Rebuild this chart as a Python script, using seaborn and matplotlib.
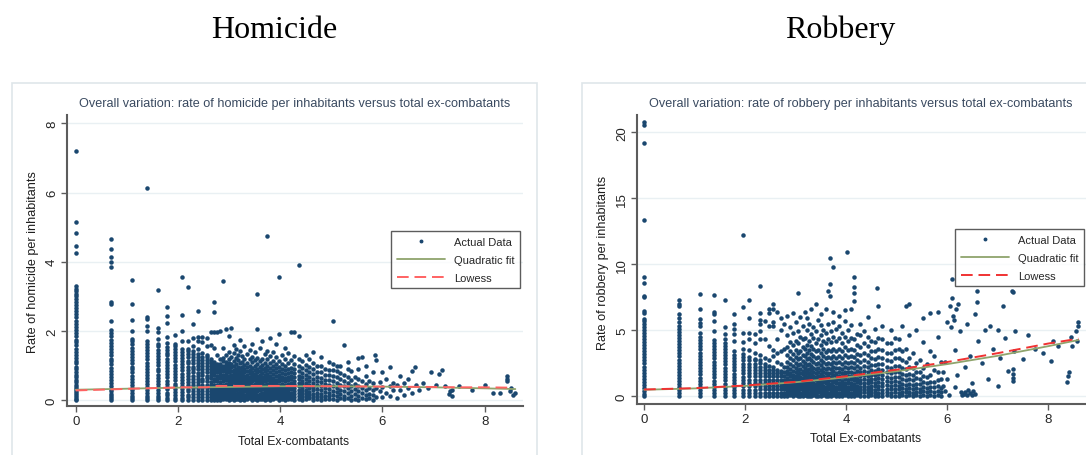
import matplotlib
matplotlib.use("Agg")
import matplotlib.pyplot as plt
import numpy as np
import pandas as pd
import seaborn as sns
from matplotlib.lines import Line2D
from matplotlib.patches import Rectangle

# ---------------------------------------------------------------- data
# x = total ex-combatants (log scale units), y = crime rate per inhabitants

# Homicide: municipalities sitting on the discrete low-count columns
hom_col_x = [0.0, 0.69, 1.10, 1.39, 1.61, 1.79, 1.95, 2.08, 2.20, 2.30, 2.40,
             2.48, 2.56, 2.64, 2.71, 2.77, 2.83]
hom_col_y = [
    [0.0, 0.04, 0.09, 0.15, 0.2, 0.26, 0.33, 0.38, 0.45, 0.52, 0.59, 0.67, 0.74, 0.82, 0.9, 0.97,
     1.06, 1.14, 1.22, 1.31, 1.4, 1.48, 1.58, 1.67, 1.75, 1.85, 1.94, 2.03, 2.11, 2.21, 2.3, 2.4,
     2.48, 2.58, 2.66, 2.75, 2.84, 2.92, 3.0, 3.07, 3.15, 3.22, 3.3, 4.25, 4.45, 4.82, 5.15, 7.2],
    [0.0, 0.05, 0.11, 0.18, 0.25, 0.33, 0.41, 0.49, 0.58, 0.66, 0.76, 0.85, 0.93, 1.03, 1.12, 1.2,
     1.3, 1.39, 1.47, 1.57, 1.66, 1.74, 1.84, 1.93, 2.02, 2.3, 2.77, 2.85, 3.84, 4.0, 4.13, 4.36, 4.65],
    [0.0, 0.06, 0.13, 0.2, 0.28, 0.36, 0.45, 0.53, 0.62, 0.7, 0.8, 0.89, 0.97, 1.07, 1.16, 1.24,
     1.34, 1.43, 1.51, 1.61, 1.7, 1.78, 2.0, 2.32, 2.78, 3.47],
    [0.0, 0.06, 0.13, 0.21, 0.29, 0.37, 0.46, 0.54, 0.64, 0.73, 0.81, 0.91, 1.0, 1.08, 1.18, 1.27,
     1.35, 1.45, 1.54, 1.62, 1.72, 2.0, 2.15, 2.33, 2.4, 6.12],
    [0.0, 0.06, 0.13, 0.21, 0.3, 0.38, 0.47, 0.55, 0.65, 0.74, 0.83, 0.91, 1.01, 1.1, 1.18, 1.28,
     1.37, 1.45, 1.55, 1.62, 1.78, 1.98, 2.08, 3.18],
    [0.0, 0.07, 0.14, 0.22, 0.31, 0.39, 0.48, 0.56, 0.66, 0.75, 0.83, 0.93, 1.02, 1.1, 1.2, 1.29,
     1.37, 1.46, 1.53, 1.65, 1.82, 2.23, 2.43, 2.68],
    [0.0, 0.07, 0.15, 0.23, 0.31, 0.4, 0.48, 0.58, 0.67, 0.75, 0.85, 0.94, 1.02, 1.12, 1.21, 1.29,
     1.39, 1.48, 1.56, 1.62, 1.88],
    [0.0, 0.07, 0.15, 0.24, 0.32, 0.41, 0.49, 0.59, 0.68, 0.76, 0.86, 0.95, 1.04, 1.12, 1.22, 1.31,
     1.4, 1.47, 1.71, 1.99, 2.45, 3.56],
    [0.0, 0.08, 0.16, 0.25, 0.33, 0.43, 0.52, 0.6, 0.7, 0.79, 0.87, 0.97, 1.06, 1.14, 1.24, 1.33,
     1.41, 1.47, 1.71, 3.27],
    [0.0, 0.08, 0.17, 0.26, 0.35, 0.43, 0.53, 0.62, 0.7, 0.8, 0.89, 0.97, 1.07, 1.16, 1.24, 1.34,
     1.42, 1.57, 1.8, 2.2],
    [0.0, 0.08, 0.17, 0.25, 0.35, 0.44, 0.52, 0.62, 0.71, 0.79, 0.89, 0.98, 1.06, 1.16, 1.25, 1.34,
     1.47, 1.7, 1.83, 2.58],
    [0.0, 0.09, 0.18, 0.27, 0.35, 0.45, 0.54, 0.62, 0.72, 0.81, 0.89, 0.99, 1.08, 1.16, 1.26, 1.36,
     1.67, 1.82],
    [0.0, 0.09, 0.17, 0.27, 0.36, 0.44, 0.54, 0.63, 0.71, 0.81, 0.9, 0.98, 1.08, 1.17, 1.25, 1.3,
     1.55, 1.8],
    [0.0, 0.09, 0.18, 0.26, 0.36, 0.45, 0.53, 0.63, 0.72, 0.8, 0.9, 0.99, 1.07, 1.14, 1.2, 1.6, 1.98],
    [0.0, 0.09, 0.18, 0.27, 0.35, 0.45, 0.54, 0.62, 0.72, 0.81, 0.89, 0.98, 1.05, 1.1, 1.5, 1.98,
     2.54, 2.83],
    [0.0, 0.09, 0.17, 0.27, 0.36, 0.44, 0.54, 0.63, 0.71, 0.81, 0.89, 0.97, 1.05, 1.3, 1.98],
    [0.0, 0.09, 0.18, 0.26, 0.36, 0.45, 0.53, 0.63, 0.72, 0.8, 0.88, 0.96, 1.03, 1.2, 2.0],
]

# Homicide: the merged cloud of higher counts
hom_slice_x = [2.89, 2.94, 3.0, 3.04, 3.09, 3.14, 3.18, 3.22, 3.26, 3.3, 3.35, 3.4, 3.45, 3.5,
               3.55, 3.6, 3.65, 3.7, 3.75, 3.8, 3.86, 3.92, 3.98, 4.04, 4.1, 4.16, 4.22, 4.28,
               4.36, 4.43, 4.5, 4.57, 4.64, 4.72, 4.8, 4.88, 4.96, 5.04, 5.11, 5.18, 5.25, 5.32,
               5.39, 5.46, 5.53, 5.6, 5.67, 5.74, 5.81]
hom_slice_y = [
    [0.02, 0.1, 0.19, 0.27, 0.36, 0.45, 0.55, 0.64, 0.73, 0.83, 0.92, 1.0, 1.12, 1.21, 1.5, 3.44],
    [0.04, 0.12, 0.21, 0.3, 0.39, 0.48, 0.57, 0.66, 0.75, 0.84, 0.93, 1.02, 1.1, 1.3, 2.05],
    [0.01, 0.08, 0.17, 0.26, 0.35, 0.44, 0.53, 0.62, 0.71, 0.8, 0.89, 0.98, 1.07, 1.18, 1.4, 1.85],
    [0.03, 0.11, 0.2, 0.29, 0.38, 0.47, 0.56, 0.65, 0.74, 0.83, 0.95, 1.05, 1.25, 2.08],
    [0.0, 0.07, 0.15, 0.24, 0.33, 0.42, 0.51, 0.6, 0.7, 0.79, 0.88, 1.0, 1.12, 1.35, 1.6],
    [0.02, 0.1, 0.19, 0.28, 0.37, 0.46, 0.55, 0.64, 0.73, 0.82, 0.91, 1.04, 1.22, 1.48],
    [0.04, 0.13, 0.22, 0.31, 0.4, 0.49, 0.58, 0.67, 0.76, 0.86, 0.97, 1.15, 1.3],
    [0.01, 0.09, 0.18, 0.27, 0.36, 0.45, 0.54, 0.63, 0.72, 0.81, 0.92, 1.06, 1.42, 1.75],
    [0.03, 0.12, 0.21, 0.3, 0.39, 0.48, 0.57, 0.66, 0.75, 0.85, 0.96, 1.1, 1.28],
    [0.0, 0.08, 0.16, 0.25, 0.34, 0.43, 0.52, 0.61, 0.7, 0.8, 0.9, 1.02, 1.2, 1.55],
    [0.02, 0.11, 0.2, 0.29, 0.38, 0.47, 0.56, 0.65, 0.74, 0.84, 0.95, 1.08, 1.33],
    [0.05, 0.14, 0.23, 0.32, 0.41, 0.5, 0.59, 0.68, 0.78, 0.88, 1.0, 1.18, 1.45],
    [0.01, 0.09, 0.18, 0.27, 0.36, 0.45, 0.54, 0.63, 0.72, 0.82, 0.94, 1.1, 1.25, 1.62],
    [0.03, 0.12, 0.21, 0.3, 0.39, 0.48, 0.57, 0.66, 0.76, 0.87, 0.99, 1.15, 1.38],
    [0.0, 0.07, 0.16, 0.25, 0.34, 0.43, 0.52, 0.61, 0.7, 0.8, 0.91, 1.05, 1.22, 2.05, 3.06],
    [0.02, 0.1, 0.19, 0.28, 0.37, 0.46, 0.55, 0.64, 0.74, 0.85, 0.97, 1.13, 1.5],
    [0.04, 0.13, 0.22, 0.31, 0.4, 0.49, 0.58, 0.68, 0.78, 0.89, 1.02, 1.2, 1.7],
    [0.01, 0.09, 0.18, 0.27, 0.36, 0.45, 0.54, 0.63, 0.73, 0.83, 0.94, 1.08, 1.32],
    [0.03, 0.12, 0.21, 0.3, 0.39, 0.48, 0.57, 0.66, 0.76, 0.87, 1.0, 1.18, 1.43, 4.74],
    [0.0, 0.08, 0.17, 0.26, 0.35, 0.44, 0.53, 0.62, 0.71, 0.81, 0.92, 1.06, 1.27, 1.8],
    [0.02, 0.11, 0.2, 0.29, 0.38, 0.47, 0.56, 0.65, 0.75, 0.86, 0.98, 1.14, 1.38],
    [0.05, 0.14, 0.23, 0.32, 0.41, 0.5, 0.59, 0.69, 0.8, 0.92, 1.05, 1.25, 1.62],
    [0.01, 0.09, 0.18, 0.27, 0.36, 0.45, 0.54, 0.64, 0.74, 0.85, 0.97, 1.12, 1.9, 3.55],
    [0.03, 0.12, 0.21, 0.3, 0.39, 0.48, 0.57, 0.67, 0.78, 0.9, 1.03, 1.3],
    [0.0, 0.08, 0.17, 0.26, 0.35, 0.44, 0.54, 0.64, 0.75, 0.87, 1.0, 1.2, 1.52],
    [0.02, 0.11, 0.2, 0.29, 0.38, 0.47, 0.57, 0.67, 0.78, 0.9, 1.08, 1.36],
    [0.04, 0.13, 0.22, 0.31, 0.4, 0.5, 0.6, 0.7, 0.81, 0.94, 1.15, 1.97],
    [0.01, 0.09, 0.18, 0.27, 0.36, 0.46, 0.56, 0.66, 0.77, 0.9, 1.05, 1.28, 1.97],
    [0.03, 0.12, 0.21, 0.3, 0.4, 0.5, 0.6, 0.71, 0.83, 0.98, 1.2, 1.85, 3.9],
    [0.0, 0.08, 0.17, 0.26, 0.36, 0.46, 0.56, 0.67, 0.79, 0.93, 1.12],
    [0.02, 0.11, 0.2, 0.3, 0.4, 0.5, 0.61, 0.73, 0.86, 1.02, 1.3],
    [0.05, 0.14, 0.24, 0.34, 0.44, 0.55, 0.67, 0.8, 0.95, 1.18],
    [0.01, 0.1, 0.19, 0.29, 0.39, 0.5, 0.62, 0.75, 0.9, 1.07, 1.4],
    [0.03, 0.12, 0.22, 0.32, 0.43, 0.55, 0.68, 0.82, 0.98],
    [0.0, 0.09, 0.19, 0.29, 0.4, 0.52, 0.65, 0.8, 1.0, 1.25],
    [0.04, 0.13, 0.23, 0.34, 0.46, 0.59, 0.73, 0.9],
    [0.02, 0.11, 0.21, 0.32, 0.44, 0.57, 0.72, 0.88, 1.1],
    [0.03, 0.14, 0.27, 0.4, 0.55, 0.7, 0.86, 1.05, 2.28],
    [0.0, 0.11, 0.23, 0.36, 0.5, 0.66, 0.84, 1.0],
    [0.05, 0.17, 0.3, 0.44, 0.6, 0.78, 1.0],
    [0.02, 0.13, 0.26, 0.4, 0.55, 0.73, 1.59],
    [0.07, 0.2, 0.34, 0.49, 0.67, 0.9, 1.1],
    [0.01, 0.12, 0.25, 0.4, 0.58, 0.85],
    [0.04, 0.17, 0.31, 0.47, 0.66],
    [0.0, 0.12, 0.26, 0.42, 0.6, 0.9, 1.22],
    [0.06, 0.2, 0.36, 0.54, 1.26],
    [0.02, 0.15, 0.3, 0.48, 0.7, 1.0],
    [0.05, 0.19, 0.35, 0.55],
    [0.01, 0.14, 0.3, 0.5, 0.8],
]

# Homicide: sparse municipalities with the largest numbers of ex-combatants
hom_sparse = [
    (5.86, 1.3), (5.88, 0.1), (5.88, 0.35), (5.88, 1.15), (5.95, 0.25),
    (5.95, 0.52), (6.0, 0.08), (6.0, 0.38), (6.0, 0.8), (6.07, 0.2), (6.07, 0.6), (6.14, 0.12),
    (6.14, 0.4), (6.14, 0.95), (6.2, 0.28), (6.2, 0.5), (6.28, 0.05), (6.28, 0.45), (6.35, 0.3),
    (6.35, 0.7), (6.42, 0.15), (6.42, 0.5), (6.5, 0.35), (6.5, 0.62), (6.58, 0.2), (6.58, 0.85),
    (6.64, 0.95), (6.66, 0.45), (6.72, 0.3), (6.8, 0.5), (6.9, 0.35), (6.95, 0.8), (7.05, 0.45),
    (7.1, 0.75), (7.17, 0.88), (7.22, 0.4), (7.3, 0.17), (7.33, 0.25), (7.36, 0.12), (7.36, 0.3),
    (7.5, 0.4), (7.76, 0.28), (8.0, 0.45), (8.17, 0.22), (8.3, 0.2), (8.44, 0.55), (8.44, 0.62),
    (8.44, 0.7), (8.5, 0.25), (8.55, 0.15), (8.6, 0.22), (8.52, 0.35),
]

# Homicide fitted curves
hom_quad_x = [0, 1, 2, 3, 4, 5, 6, 7, 8, 8.6]
hom_quad_y = [0.30, 0.33, 0.36, 0.38, 0.40, 0.40, 0.39, 0.37, 0.34, 0.32]
hom_lowess_x = [0, 0.69, 1.1, 1.61, 2.08, 2.56, 2.77, 3.0, 4.0, 5.0, 6.0, 7.0, 7.5, 8.0, 8.5]
hom_lowess_y = [0.28, 0.31, 0.33, 0.35, 0.37, 0.37, 0.41, 0.41, 0.41, 0.40, 0.39, 0.38, 0.37,
                0.37, 0.36]

# Robbery: municipalities on the discrete low-count columns
rob_col_x = [0.0, 0.69, 1.10, 1.39, 1.61, 1.79, 1.95, 2.08, 2.20, 2.30, 2.40, 2.48, 2.56, 2.64,
             2.71, 2.77]
rob_col_y = [
    [0.0, 0.18, 0.4, 0.63, 0.85, 1.08, 1.3, 1.55, 1.78, 2.0, 2.24, 2.47, 2.7, 2.95, 3.18, 3.4,
     3.63, 3.88, 4.1, 4.33, 4.57, 4.8, 5.02, 5.25, 5.48, 5.68, 5.85, 6.28, 6.48, 7.5, 7.62, 8.6,
     9.0, 13.35, 19.2, 20.55, 20.8],
    [0.0, 0.21, 0.44, 0.67, 0.9, 1.13, 1.36, 1.6, 1.83, 2.06, 2.3, 2.53, 2.76, 3.0, 3.23, 3.46,
     3.7, 3.93, 4.16, 4.4, 4.63, 4.86, 5.08, 5.3, 5.6, 5.9, 6.2, 6.8, 7.0, 7.28],
    [0.0, 0.22, 0.46, 0.7, 0.93, 1.17, 1.4, 1.64, 1.88, 2.12, 2.35, 2.58, 2.82, 3.05, 3.3, 3.53,
     3.77, 4.0, 4.22, 4.45, 4.8, 5.3, 5.55, 5.85, 6.6, 7.72],
    [0.0, 0.22, 0.46, 0.7, 0.94, 1.18, 1.42, 1.66, 1.9, 2.14, 2.38, 2.62, 2.86, 3.1, 3.34, 3.57,
     3.8, 4.02, 4.22, 4.9, 5.7, 6.2, 6.4, 7.65],
    [0.0, 0.23, 0.47, 0.71, 0.95, 1.2, 1.44, 1.68, 1.92, 2.16, 2.4, 2.64, 2.88, 3.12, 3.36, 3.6,
     3.82, 4.0, 4.35, 4.7, 5.2, 7.25],
    [0.0, 0.23, 0.47, 0.72, 0.96, 1.2, 1.45, 1.7, 1.94, 2.18, 2.42, 2.66, 2.9, 3.14, 3.38, 4.2,
     4.7, 5.1, 5.5, 6.2],
    [0.0, 0.24, 0.48, 0.73, 0.98, 1.22, 1.47, 1.72, 1.96, 2.2, 2.45, 2.7, 2.95, 3.18, 3.6, 4.1,
     4.8, 6.75],
    [0.0, 0.24, 0.49, 0.74, 0.99, 1.24, 1.49, 1.74, 1.98, 2.22, 2.46, 2.7, 2.95, 3.5, 4.3, 4.8,
     5.9, 7.25],
    [0.0, 0.24, 0.49, 0.74, 0.99, 1.24, 1.49, 1.74, 1.98, 2.22, 2.46, 2.7, 2.82, 3.3, 4.0, 4.7],
    [0.0, 0.25, 0.5, 0.75, 1.0, 1.25, 1.5, 1.75, 2.0, 2.24, 2.48, 2.7, 3.1, 4.3, 4.9, 5.45, 5.8,
     6.3, 8.35],
    [0.0, 0.25, 0.5, 0.75, 1.0, 1.25, 1.5, 1.75, 2.0, 2.22, 2.42, 2.9, 4.3, 5.7],
    [0.0, 0.25, 0.5, 0.75, 1.0, 1.25, 1.5, 1.75, 2.0, 2.3, 2.7, 3.8, 5.3, 6.3, 6.6],
    [0.0, 0.25, 0.5, 0.75, 1.0, 1.25, 1.5, 1.75, 1.98, 2.2, 3.0, 3.5, 5.3, 5.6, 6.6, 7.0],
    [0.0, 0.25, 0.5, 0.75, 1.0, 1.25, 1.5, 1.75, 2.0, 2.6, 3.3, 4.3, 6.4],
    [0.0, 0.25, 0.5, 0.75, 1.0, 1.25, 1.5, 1.72, 1.9, 2.4, 3.4, 5.0, 5.9],
    [0.0, 0.25, 0.5, 0.75, 1.0, 1.25, 1.5, 1.8, 2.2, 3.6, 5.5],
]

# Robbery: the merged cloud of higher counts
rob_slice_x = [2.83, 2.89, 2.94, 3.0, 3.04, 3.09, 3.14, 3.18, 3.22, 3.26, 3.3, 3.35, 3.4, 3.45,
               3.5, 3.55, 3.6, 3.65, 3.68, 3.7, 3.75, 3.8, 3.86, 3.92, 3.98, 4.02, 4.04, 4.1,
               4.16, 4.22, 4.28, 4.36, 4.43, 4.5, 4.57, 4.61, 4.64, 4.72, 4.8, 4.88, 4.96,
               5.04, 5.11, 5.18, 5.25, 5.32, 5.39, 5.46, 5.53, 5.6, 5.67, 5.74, 5.81, 5.88]
rob_slice_y = [
    [0.0, 0.22, 0.45, 0.68, 0.92, 1.15, 1.4, 1.65, 1.9, 2.2, 2.6, 3.1, 3.7, 4.6, 6.1],
    [0.05, 0.28, 0.52, 0.76, 1.0, 1.25, 1.5, 1.78, 2.05, 2.4, 2.85, 3.4, 4.1, 5.2],
    [0.0, 0.2, 0.43, 0.66, 0.9, 1.14, 1.38, 1.62, 1.9, 2.25, 2.7, 3.2, 3.9, 4.8, 6.3],
    [0.08, 0.3, 0.54, 0.78, 1.02, 1.27, 1.52, 1.8, 2.1, 2.5, 2.95, 3.5, 4.2, 5.6],
    [0.0, 0.23, 0.46, 0.7, 0.94, 1.18, 1.43, 1.7, 2.0, 2.35, 2.8, 3.3, 4.0, 4.9, 7.8],
    [0.04, 0.27, 0.5, 0.74, 0.98, 1.22, 1.48, 1.75, 2.05, 2.45, 2.9, 3.45, 4.5, 6.0],
    [0.0, 0.21, 0.44, 0.67, 0.9, 1.14, 1.38, 1.64, 1.92, 2.25, 2.65, 3.1, 3.7, 4.3, 5.3],
    [0.06, 0.29, 0.52, 0.76, 1.0, 1.25, 1.52, 1.8, 2.12, 2.5, 3.0, 3.6, 4.4, 6.4],
    [0.0, 0.24, 0.47, 0.71, 0.95, 1.2, 1.45, 1.72, 2.0, 2.35, 2.8, 3.3, 3.9, 5.0, 5.9],
    [0.03, 0.26, 0.5, 0.74, 0.98, 1.23, 1.5, 1.78, 2.08, 2.45, 2.9, 3.5, 4.2, 5.5],
    [0.0, 0.22, 0.45, 0.69, 0.93, 1.17, 1.42, 1.68, 1.96, 2.3, 2.7, 3.2, 3.8, 4.7, 6.6],
    [0.07, 0.3, 0.54, 0.78, 1.02, 1.28, 1.55, 1.84, 2.15, 2.55, 3.0, 3.6, 4.4, 5.2],
    [0.0, 0.23, 0.47, 0.71, 0.95, 1.2, 1.46, 1.73, 2.02, 2.4, 2.85, 3.4, 4.0, 4.9, 7.0],
    [0.04, 0.28, 0.52, 0.76, 1.0, 1.25, 1.52, 1.8, 2.1, 2.5, 2.95, 3.5, 4.3, 5.8],
    [0.0, 0.21, 0.44, 0.68, 0.92, 1.16, 1.42, 1.7, 2.0, 2.35, 2.75, 3.25, 3.9, 4.6, 5.4, 6.2],
    [0.06, 0.3, 0.54, 0.78, 1.03, 1.28, 1.55, 1.84, 2.15, 2.55, 3.0, 3.55, 4.2, 5.0],
    [0.0, 0.24, 0.48, 0.72, 0.96, 1.21, 1.47, 1.75, 2.05, 2.4, 2.85, 3.35, 4.0, 4.8, 6.6],
    [0.03, 0.26, 0.5, 0.74, 0.98, 1.24, 1.5, 1.78, 2.1, 2.5, 2.95, 3.5, 4.3, 5.5, 8.0],
    [7.6, 8.5, 10.5],
    [0.0, 0.22, 0.46, 0.7, 0.94, 1.19, 1.45, 1.73, 2.03, 2.4, 2.85, 3.4, 4.1, 4.9],
    [0.07, 0.3, 0.54, 0.78, 1.03, 1.29, 1.57, 1.87, 2.2, 2.6, 3.05, 3.6, 4.5, 5.6, 6.4, 9.8],
    [0.0, 0.23, 0.47, 0.71, 0.96, 1.22, 1.49, 1.78, 2.1, 2.48, 2.9, 3.45, 4.2, 5.1],
    [0.04, 0.27, 0.51, 0.75, 1.0, 1.26, 1.53, 1.82, 2.15, 2.55, 3.0, 3.6, 4.4, 5.3, 6.1],
    [0.0, 0.22, 0.45, 0.69, 0.93, 1.18, 1.44, 1.72, 2.03, 2.4, 2.85, 3.4, 4.0, 4.8],
    [0.05, 0.29, 0.53, 0.77, 1.02, 1.28, 1.56, 1.86, 2.2, 2.6, 3.1, 3.7, 4.5, 5.7, 6.5],
    [10.9],
    [0.0, 0.24, 0.48, 0.72, 0.97, 1.23, 1.5, 1.8, 2.12, 2.5, 2.95, 3.5, 4.2, 5.0],
    [0.03, 0.26, 0.5, 0.75, 1.0, 1.26, 1.54, 1.84, 2.18, 2.58, 3.05, 3.6, 4.4, 5.4, 6.6],
    [0.0, 0.22, 0.46, 0.7, 0.95, 1.21, 1.48, 1.78, 2.1, 2.5, 2.95, 3.5, 4.3, 7.2, 7.8, 8.3, 9.0],
    [0.06, 0.3, 0.54, 0.79, 1.04, 1.3, 1.58, 1.9, 2.25, 2.7, 3.2, 3.9, 4.7],
    [0.0, 0.23, 0.47, 0.72, 0.97, 1.23, 1.51, 1.82, 2.16, 2.58, 3.1, 3.7, 4.6, 5.5],
    [0.04, 0.28, 0.52, 0.77, 1.02, 1.29, 1.58, 1.9, 2.28, 2.72, 3.3, 4.0, 4.9],
    [0.0, 0.22, 0.46, 0.71, 0.96, 1.22, 1.5, 1.82, 2.18, 2.62, 3.15, 3.8, 4.5, 6.0],
    [0.05, 0.29, 0.54, 0.79, 1.05, 1.32, 1.62, 1.96, 2.36, 2.85, 3.4, 4.2],
    [0.0, 0.24, 0.49, 0.74, 1.0, 1.28, 1.58, 1.92, 2.32, 2.8, 3.4, 4.1, 5.1],
    [8.2],
    [0.03, 0.27, 0.52, 0.78, 1.05, 1.34, 1.66, 2.02, 2.45, 2.95, 3.6, 4.4, 6.8],
    [0.0, 0.23, 0.48, 0.74, 1.01, 1.3, 1.62, 1.98, 2.4, 2.9, 3.5, 4.3, 5.3],
    [0.06, 0.3, 0.56, 0.83, 1.12, 1.44, 1.8, 2.22, 2.7, 3.3, 4.0],
    [0.0, 0.25, 0.5, 0.77, 1.06, 1.38, 1.74, 2.15, 2.65, 3.25, 4.0, 5.0],
    [0.04, 0.28, 0.54, 0.82, 1.12, 1.46, 1.84, 2.3, 2.85, 3.5, 4.4],
    [0.0, 0.25, 0.52, 0.8, 1.1, 1.45, 1.85, 2.3, 2.9, 3.6, 4.3],
    [0.08, 0.34, 0.62, 0.92, 1.26, 1.65, 2.1, 2.7, 3.4, 5.3],
    [0.02, 0.28, 0.56, 0.86, 1.2, 1.6, 2.05, 2.6, 3.6, 6.8],
    [0.05, 0.32, 0.6, 0.92, 1.28, 1.7, 2.2, 2.9, 4.6, 6.97],
    [0.0, 0.26, 0.55, 0.86, 1.2, 1.62, 2.15, 3.3],
    [0.06, 0.33, 0.62, 0.95, 1.35, 1.85, 2.5, 5.0],
    [0.02, 0.28, 0.57, 0.9, 1.3, 1.8, 2.7],
    [0.08, 0.36, 0.68, 1.05, 1.5, 2.1, 4.1, 5.9],
    [0.0, 0.3, 0.62, 1.0, 1.45, 2.4],
    [0.05, 0.36, 0.7, 1.1, 1.6, 3.4, 6.3],
    [0.02, 0.32, 0.66, 1.05, 2.0, 3.0],
    [0.06, 0.38, 0.75, 1.2, 1.8, 4.5, 6.34],
    [0.0, 0.3, 0.65, 1.3, 2.6],
]

# Robbery: sparse municipalities with the largest numbers of ex-combatants
rob_sparse = [
    (1.95, 12.2), (5.92, 0.8), (5.92, 1.8), (5.96, 0.4), (5.96, 2.6), (6.0, 1.3), (6.0, 5.6),
    (6.03, 0.1), (6.05, 6.8), (6.09, 8.86), (6.1, 7.4), (6.08, 5.2), (6.12, 6.1), (6.14, 5.8),
    (6.15, 0.7), (6.15, 3.5), (6.18, 6.6), (6.2, 1.6), (6.22, 7.0), (6.25, 4.9), (6.28, 0.3),
    (6.3, 0.05), (6.33, 0.15), (6.36, 0.3), (6.4, 0.1), (6.42, 0.45), (6.45, 0.2), (6.5, 0.05),
    (6.52, 0.35), (6.55, 0.15), (6.35, 2.2), (6.4, 5.5), (6.45, 3.0), (6.5, 1.0), (6.55, 6.2),
    (6.59, 7.93), (6.6, 7.1), (6.62, 4.2), (6.7, 2.5), (6.75, 5.0), (6.8, 1.3), (6.85, 5.3),
    (6.9, 3.6), (7.0, 5.0), (7.0, 0.8), (7.05, 2.9), (7.1, 6.8), (7.15, 4.4), (7.2, 1.9),
    (7.28, 7.98), (7.3, 7.88), (7.3, 1.15), (7.3, 1.4), (7.3, 1.7), (7.3, 2.05), (7.32, 3.4),
    (7.35, 4.9), (7.5, 2.8), (7.6, 4.6), (7.75, 3.6), (7.9, 3.3), (8.05, 2.65), (8.1, 4.2),
    (8.2, 3.8), (8.38, 1.1), (8.4, 1.5), (8.42, 1.8), (8.45, 4.5), (8.48, 3.8), (8.55, 4.9),
    (8.6, 5.3), (8.6, 5.6), (8.58, 4.2),
]

# Robbery fitted curves
rob_quad_x = [0, 1, 2, 3, 4, 5, 6, 7, 8, 8.6]
rob_quad_y = [0.48, 0.58, 0.77, 1.05, 1.42, 1.88, 2.42, 3.05, 3.78, 4.25]
rob_lowess_x = [0, 1, 2, 3, 4, 5, 6, 7, 8, 8.6]
rob_lowess_y = [0.50, 0.60, 0.80, 1.08, 1.50, 2.00, 2.58, 3.25, 3.98, 4.35]

panel_titles = ["Homicide", "Robbery"]
inner_titles = [
    "Overall variation: rate of homicide per inhabitants versus total ex-combatants",
    "Overall variation: rate of robbery per inhabitants versus total ex-combatants",
]
y_labels = ["Rate of homicide per inhabitants", "Rate of robbery per inhabitants"]
x_label = "Total Ex-combatants"
legend_labels = ["Actual Data", "Quadratic fit", "Lowess"]
hom_yticks = [0, 2, 4, 6, 8]
rob_yticks = [0, 5, 10, 15, 20]
x_ticks = [0, 2, 4, 6, 8]

# ---------------------------------------------------------------- style
NAVY = "#1a476f"
QUAD = "#8fa46c"
W, H = 1086, 456

sns.set_theme(style="white")
plt.rcParams["font.family"] = ["Liberation Sans", "DejaVu Sans"]


def points_frame(col_x, col_y, slice_x, slice_y, sparse):
    xs, ys = [], []
    for x, vals in list(zip(col_x, col_y)) + list(zip(slice_x, slice_y)):
        xs.extend([x] * len(vals))
        ys.extend(vals)
    for x, y in sparse:
        xs.append(x)
        ys.append(y)
    return pd.DataFrame({"x": xs, "y": ys})


def box(l, t, r, b):
    return [l / W, 1 - b / H, (r - l) / W, (b - t) / H]


fig = plt.figure(figsize=(W / 100, H / 100), dpi=100)
fig.patch.set_facecolor("white")

# light frames around each panel
for (l, t, r, b) in [(12, 84, 537, 470), (582, 84, 1100, 470)]:
    fig.patches.append(Rectangle((l / W, 1 - b / H), (r - l) / W, (b - t) / H,
                                 transform=fig.transFigure, fill=False,
                                 edgecolor="#dfe6ea", linewidth=1.2))

panels = [
    dict(rect=box(67, 116, 523, 407), xlim=(-0.17, 8.75), ylim=(-0.17, 8.24),
         yticks=hom_yticks,
         pts=points_frame(hom_col_x, hom_col_y, hom_slice_x, hom_slice_y, hom_sparse),
         quad=(hom_quad_x, hom_quad_y), low=(hom_lowess_x, hom_lowess_y),
         low_color="#ff6262", title_x=274, inner_x=295, ylab_x=33, ylab_y=262, xlab_x=294,
         xlab_y=442, leg=(391, 232)),
    dict(rect=box(637, 116, 1086, 405), xlim=(-0.14, 8.75), ylim=(-0.6, 21.3),
         yticks=rob_yticks,
         pts=points_frame(rob_col_x, rob_col_y, rob_slice_x, rob_slice_y, rob_sparse),
         quad=(rob_quad_x, rob_quad_y), low=(rob_lowess_x, rob_lowess_y),
         low_color="#f03232", title_x=840, inner_x=861, ylab_x=603, ylab_y=263, xlab_x=866,
         xlab_y=439, leg=(955, 230)),
]

for i, p in enumerate(panels):
    ax = fig.add_axes(p["rect"])
    ax.set_facecolor("white")
    sns.scatterplot(data=p["pts"], x="x", y="y", ax=ax, color=NAVY, s=10.5,
                    linewidth=0, marker="o", zorder=3, legend=False)
    sns.lineplot(x=p["quad"][0], y=p["quad"][1], ax=ax, color=QUAD, linewidth=1.3,
                 estimator=None, sort=False, zorder=4)
    sns.lineplot(x=p["low"][0], y=p["low"][1], ax=ax, color=p["low_color"], linewidth=1.4,
                 estimator=None, sort=False, zorder=5, dashes=False)
    ax.lines[-1].set_dashes((6, 3))

    ax.set_xlim(*p["xlim"])
    ax.set_ylim(*p["ylim"])
    ax.set_xticks(x_ticks)
    ax.set_yticks(p["yticks"])
    ax.set_xlabel("")
    ax.set_ylabel("")
    ax.grid(axis="y", color="#e9f0f3", linewidth=1.0, zorder=0)
    ax.grid(axis="x", visible=False)
    ax.set_axisbelow(True)
    for side in ("top", "right"):
        ax.spines[side].set_visible(False)
    for side in ("left", "bottom"):
        ax.spines[side].set_color("#5c5c5c")
        ax.spines[side].set_linewidth(1.5)
    ax.tick_params(axis="both", which="major", direction="out", length=4, width=1,
                   color="#5c5c5c", labelsize=9.5, labelcolor="#262626", pad=2.5,
                   left=True, bottom=True)
    for lab in ax.get_yticklabels():
        lab.set_rotation(90)
        lab.set_va("center")

    # legend
    handles = [
        Line2D([], [], marker="o", linestyle="None", color=NAVY, markersize=1.8),
        Line2D([], [], color=QUAD, linewidth=1.3),
        Line2D([], [], color=p["low_color"], linewidth=1.4, dashes=(6, 3)),
    ]
    lx, ly = p["leg"]
    leg = fig.legend(handles, legend_labels, loc="upper left",
                     bbox_to_anchor=(lx / W, 1 - ly / H), frameon=True, fancybox=False,
                     fontsize=8, handlelength=4.4, handletextpad=0.8, labelspacing=0.72,
                     borderpad=0.5, borderaxespad=0)
    leg.get_frame().set_edgecolor("#333333")
    leg.get_frame().set_linewidth(1.0)

    fig.text(p["title_x"] / W, 1 - 30 / H, panel_titles[i], ha="center", va="center",
             fontsize=23, family=["Liberation Serif", "DejaVu Serif"], color="black")
    fig.text(p["inner_x"] / W, 1 - 104 / H, inner_titles[i], ha="center", va="center",
             fontsize=9.1, color="#3a4a60")
    fig.text(p["ylab_x"] / W, 1 - p["ylab_y"] / H, y_labels[i], ha="center", va="center",
             rotation=90, fontsize=9.1, color="#1e1e1e")
    fig.text(p["xlab_x"] / W, 1 - p["xlab_y"] / H, x_label, ha="center", va="center",
             fontsize=8.8, color="#1e1e1e")

fig.savefig("out.png", dpi=100, facecolor="white")
